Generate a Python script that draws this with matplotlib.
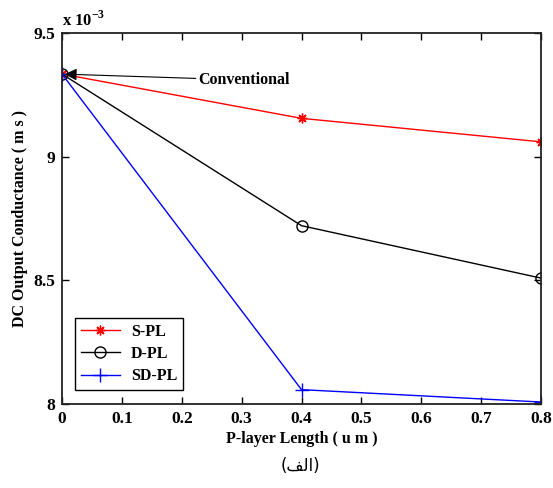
import matplotlib
matplotlib.use("Agg")
import matplotlib.pyplot as plt

x = [0.0, 0.4, 0.8]
s_pl = [9.334, 9.155, 9.060]
d_pl = [9.334, 8.721, 8.509]
sd_pl = [9.334, 8.058, 8.008]
xticks = [0, 0.1, 0.2, 0.3, 0.4, 0.5, 0.6, 0.7, 0.8]
yticks = [8, 8.5, 9, 9.5]

plt.rcParams['font.family'] = ['Liberation Serif', 'DejaVu Serif']
plt.rcParams['font.weight'] = 'bold'

fig = plt.figure(figsize=(5.53, 4.88), dpi=100)
ax = fig.add_axes([62/553, 1-404/488, (541-62)/553, (404-33)/488])

ax.plot(x, s_pl, color='red', marker=(8, 2, 0), markersize=7, mew=1, lw=1, label='S-PL')
ax.plot(x, d_pl, color='black', marker='o', markersize=8, mfc='none', mew=1, lw=1, label='D-PL')
ax.plot(x, sd_pl, color='blue', marker='+', markersize=10, mew=1, lw=1, label='SD-PL')

ax.set_xlim(0, 0.8)
ax.set_ylim(8, 9.5)
ax.set_xticks(xticks)
ax.set_xticklabels([('%g' % v) for v in xticks])
ax.set_yticks(yticks)
ax.set_yticklabels([('%g' % v) for v in yticks])
ax.tick_params(direction='in', top=True, right=True, labelsize=12.5, length=5, width=1, pad=5)
for sp in ax.spines.values():
    sp.set_linewidth(1.3)
    sp.set_color('#222222')

ax.set_xlabel('P-layer Length ( u m )', fontsize=11.5, fontweight='bold', labelpad=3)
ax.set_ylabel('DC Output Conductance ( m s )', fontsize=11.5, fontweight='bold', labelpad=4)

ax.text(0.0, 1.01, r'x 10$^{\mathregular{-3}}$', transform=ax.transAxes, fontsize=12,
        fontweight='bold', ha='left', va='bottom')

ax.annotate('Conventional', xy=(x[0], s_pl[0]), xytext=(0.228, 9.31),
            fontsize=11.5, fontweight='bold', va='center', ha='left',
            arrowprops=dict(arrowstyle='-|>', color='black', lw=0.8, mutation_scale=18,
                            shrinkA=0, shrinkB=2))

leg = ax.legend(loc='lower left', bbox_to_anchor=(0.027, 0.038), borderaxespad=0,
                fontsize=11.5, fancybox=False, edgecolor='black', framealpha=1,
                handlelength=2.5, handletextpad=0.65, borderpad=0.35, labelspacing=0.4)
leg.get_frame().set_linewidth(1.0)

fig.text(300/553, 1-466/488, '(\uFED2\uFEDF\uFE8D)', fontsize=12, ha='center', va='center',
         family=['DejaVu Sans'], fontweight='normal')

fig.savefig('out.png', dpi=100)
